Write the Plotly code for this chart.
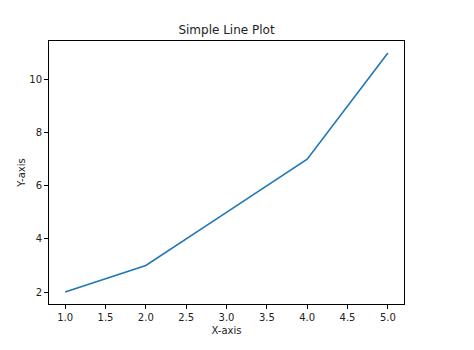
import plotly.graph_objects as go

x_values = [1, 2, 3, 4, 5]
y_values = [2, 3, 5, 7, 11]
x_ticks = [1.0, 1.5, 2.0, 2.5, 3.0, 3.5, 4.0, 4.5, 5.0]
x_tick_labels = ["1.0", "1.5", "2.0", "2.5", "3.0", "3.5", "4.0", "4.5", "5.0"]
y_ticks = [2, 4, 6, 8, 10]
title_text = "Simple Line Plot"
x_label = "X-axis"
y_label = "Y-axis"

fig = go.Figure()
fig.add_trace(go.Scatter(x=x_values, y=y_values, mode="lines",
                         line=dict(color="#1f77b4", width=1.6), showlegend=False))

axis_common = dict(showgrid=False, zeroline=False, showline=True, linecolor="black",
                   linewidth=1, mirror=True, ticks="outside", ticklen=4, tickwidth=1,
                   tickcolor="black", tickfont=dict(family="DejaVu Sans", size=10, color="#222"))

fig.update_layout(
    width=474, height=350,
    margin=dict(l=49, r=70, t=41, b=46),
    paper_bgcolor="white", plot_bgcolor="white",
    title=dict(text=title_text, x=(49 + 404) / 2 / 474, xanchor="center",
               y=1 - 30 / 350, yanchor="middle",
               font=dict(family="DejaVu Sans", size=12, color="#222")),
    xaxis=dict(range=[0.8, 5.2], tickvals=x_ticks, ticktext=x_tick_labels,
               title=dict(text=x_label, standoff=4, font=dict(family="DejaVu Sans", size=10, color="#222")),
               **axis_common),
    yaxis=dict(range=[1.55, 11.45], tickvals=y_ticks,
               title=dict(text=y_label, standoff=1, font=dict(family="DejaVu Sans", size=10, color="#222")),
               **axis_common),
)

fig.write_html("out.html")
